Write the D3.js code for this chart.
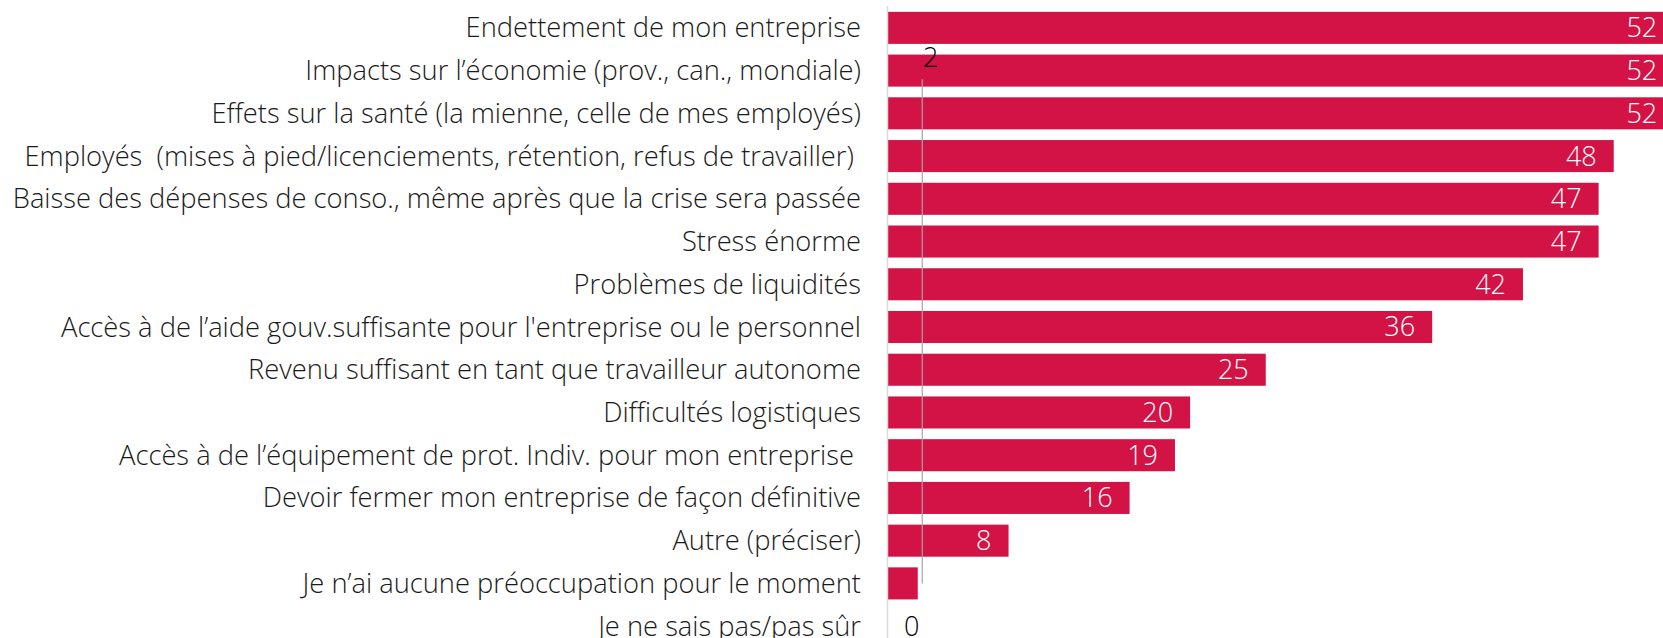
<!DOCTYPE html>
<html>
<head>
<meta charset="utf-8">
<script src="https://cdn.jsdelivr.net/npm/d3@7"></script>
<style>
  body { margin: 0; background: #fff; }
  svg { display: block; }
  text { font-family: "Open Sans", "Noto Sans", sans-serif; font-weight: 300; }
</style>
</head>
<body>
<svg id="chart"></svg>
<script>
// categories, top to bottom
const categories = [
  "Endettement de mon entreprise",
  "Impacts sur l\u2019économie (prov., can., mondiale)",
  "Effets sur la santé (la mienne, celle de mes employés)",
  "Employés  (mises à pied/licenciements, rétention, refus de travailler) ",
  "Baisse des dépenses de conso., même après que la crise sera passée",
  "Stress énorme",
  "Problèmes de liquidités",
  "Accès à de l\u2019aide gouv.suffisante pour l'entreprise ou le personnel",
  "Revenu suffisant en tant que travailleur autonome",
  "Difficultés logistiques",
  "Accès à de l\u2019équipement de prot. Indiv. pour mon entreprise ",
  "Devoir fermer mon entreprise de façon définitive",
  "Autre (préciser)",
  "Je n\u2019ai aucune préoccupation pour le moment",
  "Je ne sais pas/pas sûr"
];
const values = [52, 52, 52, 48, 47, 47, 42, 36, 25, 20, 19, 16, 8, 2, 0];
// the "2" label was dragged up in the original, with a leader line
const movedLabel = { index: 13, toGap: 0 };

const W = 1663, H = 638;
const svg = d3.select("#chart").attr("width", W).attr("height", H);

const x = d3.scaleLinear().domain([0, 10]).range([887.5, 1038.8]);
const y = d3.scaleBand().domain(categories).range([6.5, 647.5]).paddingInner(0.25).paddingOuter(0.125);

const barColor = "#d31245";
const catSize = 27.3;
const valSize = 27;

// bars
svg.selectAll("rect.bar")
  .data(values)
  .enter()
  .append("rect")
  .attr("class", "bar")
  .attr("x", x(0))
  .attr("y", (d, i) => y(categories[i]))
  .attr("width", d => x(d) - x(0))
  .attr("height", y.bandwidth())
  .attr("fill", barColor);

// axis line
svg.append("line")
  .attr("x1", x(0)).attr("x2", x(0))
  .attr("y1", 6).attr("y2", H)
  .attr("stroke", "#d9d9d9").attr("stroke-width", 1.5);

// category labels
svg.selectAll("text.cat")
  .data(categories)
  .enter()
  .append("text")
  .attr("class", "cat")
  .attr("x", 861)
  .attr("y", d => y(d) + y.bandwidth() / 2)
  .attr("dy", "0.35em")
  .attr("text-anchor", "end")
  .attr("font-size", catSize)
  .attr("fill", "#1a1a1a")
  .style("white-space", "pre")
  .text(d => d);

// value labels
values.forEach((v, i) => {
  const cy = y(categories[i]) + y.bandwidth() / 2;
  if (i === movedLabel.index) {
    const c0 = categories[movedLabel.toGap];
    const gy = y(c0) + y.bandwidth() + (y.step() - y.bandwidth()) / 2 + 8;
    const lx = x(v) + 4.5;
    svg.append("line")
      .attr("x1", lx).attr("x2", lx)
      .attr("y1", gy + 22).attr("y2", cy)
      .attr("stroke", "#a6a6a6").attr("stroke-width", 1.2);
    svg.append("text")
      .attr("x", x(v) + 13)
      .attr("y", gy)
      .attr("dy", "0.35em")
      .attr("text-anchor", "middle")
      .attr("font-size", valSize)
      .attr("fill", "#000")
      .text(v);
  } else if (v >= 5) {
    svg.append("text")
      .attr("x", x(v) - 17)
      .attr("y", cy)
      .attr("dy", "0.35em")
      .attr("text-anchor", "end")
      .attr("font-size", valSize)
      .attr("fill", "#fff")
      .text(v);
  } else {
    svg.append("text")
      .attr("x", x(v) + 16.5)
      .attr("y", cy)
      .attr("dy", "0.35em")
      .attr("text-anchor", "start")
      .attr("font-size", valSize)
      .attr("fill", "#000")
      .text(v);
  }
});
</script>
</body>
</html>
